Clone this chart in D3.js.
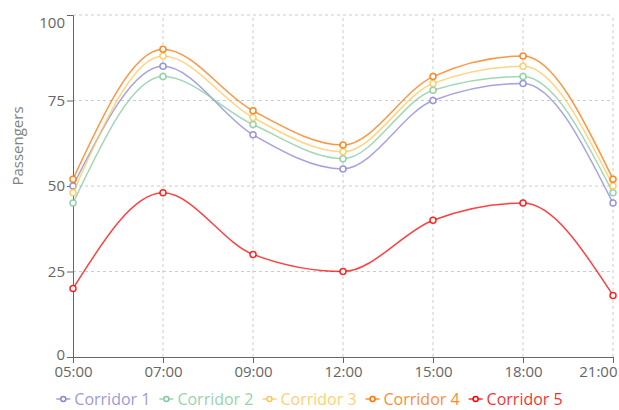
<!DOCTYPE html>
<html>
<head>
<meta charset="utf-8">
<script src="https://cdn.jsdelivr.net/npm/d3@7"></script>
<style>
  body { margin: 0; background: #fff; }
  svg { font-family: "Open Sans", sans-serif; }
</style>
</head>
<body>
<div id="chart"></div>
<script>
// time slots and passenger counts per corridor
var times = ["05:00", "07:00", "09:00", "12:00", "15:00", "18:00", "21:00"];
var seriesNames = ["Corridor 1", "Corridor 2", "Corridor 3", "Corridor 4", "Corridor 5"];
var corridor1 = [50, 85, 65, 55, 75, 80, 45];
var corridor2 = [45, 82, 68, 58, 78, 82, 48];
var corridor3 = [48, 88, 70, 60, 80, 85, 50];
var corridor4 = [52, 90, 72, 62, 82, 88, 52];
var corridor5 = [20, 48, 30, 25, 40, 45, 18];
var yTicks = [0, 25, 50, 75, 100];
var colors = ["#8884d8", "#82ca9d", "#ffc658", "#ff7300", "#ff0000"];

var series = [corridor1, corridor2, corridor3, corridor4, corridor5].map(function(vals, i) {
    return { name: seriesNames[i], color: colors[i], values: vals };
});

var width = 619, height = 410,
    margin = {top: 15, right: 6, bottom: 53, left: 73};

var svg = d3.select("#chart").append("svg")
    .attr("width", width)
    .attr("height", height);

var x = d3.scalePoint()
    .domain(times)
    .range([margin.left, width - margin.right]);

var y = d3.scaleLinear()
    .domain([0, 100])
    .range([height - margin.bottom, margin.top]);

// dashed grid
var grid = svg.append("g").attr("class", "grid");
grid.selectAll("line.h")
    .data(yTicks.filter(function(d) { return d > 0; }))
    .enter().append("line")
    .attr("x1", x.range()[0]).attr("x2", x.range()[1])
    .attr("y1", function(d) { return y(d); })
    .attr("y2", function(d) { return y(d); })
    .attr("stroke", "#ccc")
    .attr("stroke-dasharray", "3 3");
grid.selectAll("line.v")
    .data(times.slice(1))
    .enter().append("line")
    .attr("x1", function(d) { return x(d); })
    .attr("x2", function(d) { return x(d); })
    .attr("y1", y(0)).attr("y2", y(100))
    .attr("stroke", "#ccc")
    .attr("stroke-dasharray", "3 3");

// axes
var xAxis = svg.append("g")
    .attr("transform", "translate(0," + y(0) + ")")
    .call(d3.axisBottom(x).tickSizeOuter(0).tickSize(6).tickPadding(3));
var yAxis = svg.append("g")
    .attr("transform", "translate(" + margin.left + ",0)")
    .call(d3.axisLeft(y).tickValues(yTicks).tickSizeOuter(0).tickSize(6).tickPadding(2));

[xAxis, yAxis].forEach(function(a) {
    a.select(".domain").attr("stroke", "#666");
    a.selectAll(".tick line").attr("stroke", "#666");
    a.selectAll(".tick text")
        .attr("fill", "#666")
        .style("font-size", "15px")
        .style("font-family", "'Open Sans', sans-serif");
});

// keep the end labels inside the chart and clear of each other
xAxis.selectAll(".tick text")
    .filter(function(d) { return d === times[times.length - 1]; })
    .attr("text-anchor", "end")
    .attr("x", 4);
yAxis.selectAll(".tick text")
    .filter(function(d) { return d === 100; })
    .attr("dy", "0.85em");
yAxis.selectAll(".tick text")
    .filter(function(d) { return d === 0; })
    .attr("dy", "0.15em");

// y axis title
svg.append("text")
    .attr("transform", "translate(23,146) rotate(-90)")
    .attr("text-anchor", "middle")
    .attr("fill", "#808080")
    .style("font-size", "15px")
    .text("Passengers");

// lines
var line = d3.line()
    .x(function(d, i) { return x(times[i]); })
    .y(function(d) { return y(d); })
    .curve(d3.curveMonotoneX);

var sg = svg.selectAll(".series")
    .data(series)
    .enter().append("g")
    .attr("class", "series");

sg.append("path")
    .attr("d", function(d) { return line(d.values); })
    .attr("fill", "none")
    .attr("stroke", function(d) { return d.color; })
    .attr("stroke-opacity", 0.75)
    .attr("stroke-width", 1.5);

sg.selectAll("circle")
    .data(function(d) { return d.values.map(function(v, i) { return {v: v, i: i, color: d.color}; }); })
    .enter().append("circle")
    .attr("cx", function(d) { return x(times[d.i]); })
    .attr("cy", function(d) { return y(d.v); })
    .attr("r", 3)
    .attr("fill", "#fff")
    .attr("stroke", function(d) { return d.color; })
    .attr("stroke-opacity", 0.85)
    .attr("stroke-width", 1.5);

// legend, centred under the chart
var legend = svg.append("g").attr("class", "legend");
var items = legend.selectAll("g")
    .data(series)
    .enter().append("g");

items.append("line")
    .attr("x1", 0).attr("x2", 14)
    .attr("y1", 0).attr("y2", 0)
    .attr("stroke", function(d) { return d.color; })
    .attr("stroke-opacity", 0.8)
    .attr("stroke-width", 1.5);
items.append("circle")
    .attr("cx", 7).attr("cy", 0).attr("r", 2.5)
    .attr("fill", "#fff")
    .attr("stroke", function(d) { return d.color; })
    .attr("stroke-width", 1.5);
items.append("text")
    .attr("x", 18)
    .attr("dy", "0.35em")
    .attr("fill", function(d) { return d.color; })
    .attr("fill-opacity", 0.85)
    .style("font-size", "16px")
    .text(function(d) { return d.name; });

var offs = [], total = 0;
items.each(function() {
    var w = 18 + this.querySelector("text").getComputedTextLength();
    offs.push(total);
    total += w + 9;
});
total -= 9;
var startX = width / 2 - total / 2;
items.attr("transform", function(d, i) { return "translate(" + (startX + offs[i]) + ",399)"; });
</script>
</body>
</html>
